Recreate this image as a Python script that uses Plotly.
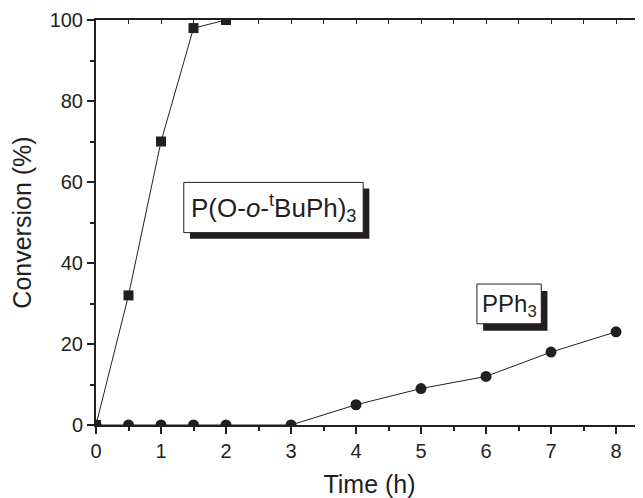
import plotly.graph_objects as go

time_phos = [0, 0.5, 1, 1.5, 2]
conv_phos = [0, 32, 70, 98, 100]
time_pph3 = [0, 0.5, 1, 1.5, 2, 3, 4, 5, 6, 7, 8]
conv_pph3 = [0, 0, 0, 0, 0, 0, 5, 9, 12, 18, 23]

label_phos = "P(O-<i>o</i>-<sup>t</sup>BuPh)<sub>3</sub>"
label_pph3 = "PPh<sub>3</sub>"

ink = "#231f20"
font = "Liberation Sans, Arial, sans-serif"

fig = go.Figure()
fig.add_trace(go.Scatter(x=time_pph3, y=conv_pph3, mode="lines+markers",
                         line=dict(color=ink, width=1),
                         marker=dict(symbol="circle", size=11, color=ink),
                         showlegend=False))
fig.add_trace(go.Scatter(x=time_phos, y=conv_phos, mode="lines+markers",
                         line=dict(color=ink, width=1),
                         marker=dict(symbol="square", size=10, color=ink),
                         showlegend=False))
# dummy trace for top axis
fig.add_trace(go.Scatter(x=[0], y=[0], xaxis="x2", mode="markers",
                         marker=dict(opacity=0), showlegend=False, hoverinfo="skip"))

def boxed(x0, x1, y0, y1, dx, dy):
    # shadow
    fig.add_shape(type="rect", xref="x", yref="y", x0=x0 + dx, x1=x1 + dx,
                  y0=y0 - dy, y1=y1 - dy, fillcolor=ink, line=dict(width=0), layer="above")
    fig.add_shape(type="rect", xref="x", yref="y", x0=x0, x1=x1, y0=y0, y1=y1,
                  fillcolor="white", line=dict(color=ink, width=1), layer="above")

boxed(1.35, 4.11, 47.5, 59.9, 0.095, 1.5)
boxed(5.86, 6.85, 25.0, 34.8, 0.095, 1.7)

fig.add_annotation(x=2.73, y=53.5, xref="x", yref="y", text=label_phos, showarrow=False,
                   font=dict(family=font, size=26, color=ink))
fig.add_annotation(x=6.355, y=29.6, xref="x", yref="y", text=label_pph3, showarrow=False,
                   font=dict(family=font, size=24, color=ink))

# page body adds an 8px offset; margins compensate
fig.update_layout(
    width=643, height=498,
    margin=dict(l=88, r=8, t=12, b=81),
    paper_bgcolor="white", plot_bgcolor="white",
    font=dict(family=font, color=ink),
    xaxis=dict(range=[0, 8.415], tickmode="array", tickvals=[0, 1, 2, 3, 4, 5, 6, 7, 8],
               automargin=False,
               ticks="outside", ticklen=7, tickwidth=1.5, tickcolor=ink,
               minor=dict(ticks="outside", ticklen=4, dtick=0.5, tick0=0, tickcolor=ink, tickwidth=1.5),
               showline=True, linecolor=ink, linewidth=2, showgrid=False, zeroline=False,
               tickfont=dict(size=20, family=font, color=ink),
               title=dict(text="Time (h)", font=dict(size=25, family=font, color=ink), standoff=14)),
    xaxis2=dict(overlaying="x", side="top", matches="x", range=[0, 8.415], automargin=False,
                dtick=0.5, tick0=0, ticks="inside", ticklen=4, tickwidth=1, tickcolor=ink,
                showticklabels=False, showline=True, linecolor=ink, linewidth=2,
                showgrid=False, zeroline=False),
    yaxis=dict(range=[0, 100], tickvals=[0, 20, 40, 60, 80, 100], automargin=False,
               ticks="outside", ticklen=7, tickwidth=1.5, tickcolor=ink,
               minor=dict(ticks="outside", ticklen=4, dtick=10, tick0=0, tickcolor=ink, tickwidth=1.5),
               showline=True, linecolor=ink, linewidth=2, showgrid=False, zeroline=False,
               tickfont=dict(size=20, family=font, color=ink),
               title=dict(text="Conversion (%)", font=dict(size=25, family=font, color=ink), standoff=12)),
)

fig.write_html("out.html")
